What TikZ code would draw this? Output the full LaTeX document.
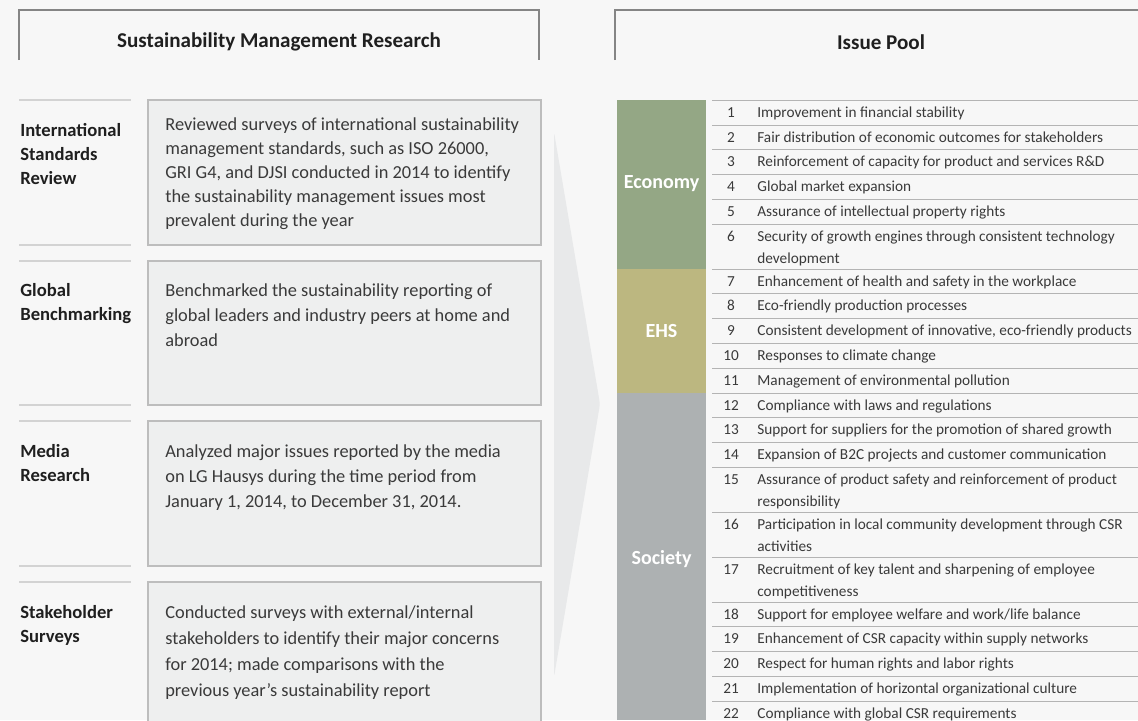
\documentclass[tikz,border=0pt]{standalone}
\usepackage{fontspec}
\setmainfont{Carlito}
\usepackage{xcolor}
\usetikzlibrary{positioning}
\definecolor{pagegray}{HTML}{F7F7F7}
\definecolor{boxgray}{HTML}{EEEFEF}
\definecolor{boxline}{HTML}{BDBDBD}
\definecolor{seprule}{HTML}{D3D3D3}
\definecolor{hdrline}{HTML}{858585}
\definecolor{tabrule}{HTML}{B4B4B4}
\definecolor{arrowgray}{HTML}{E8E9EA}
\definecolor{econgreen}{HTML}{94A785}
\definecolor{ehsolive}{HTML}{BCB780}
\definecolor{socgray}{HTML}{ADB1B2}
\definecolor{bodytext}{HTML}{3A3A3A}

\begin{document}
\begin{tikzpicture}[x=0.02cm,y=-0.02cm,
  hdr/.style={font=\bfseries\fontsize{12}{14}\selectfont,text=black!88},
  lbl/.style={anchor=base west,align=left,inner sep=0,text=black!88,
    font=\bfseries\fontsize{10.6}{13.6}\selectfont},
  desc/.style={anchor=base west,align=left,inner sep=0,text=bodytext,
    font=\fontsize{10.45}{14.2}\selectfont},
  descbox/.style={draw=boxline,line width=0.6pt,fill=boxgray},
  sep/.style={draw=seprule,line width=0.8pt},
  hline/.style={draw=hdrline,line width=0.7pt},
  rule/.style={draw=tabrule,line width=0.5pt},
  num/.style={anchor=base,inner sep=0,text=bodytext,font=\fontsize{8.7}{12.5}\selectfont},
  item/.style={anchor=base west,align=left,inner sep=0,text=bodytext,
    font=\fontsize{8.7}{12.5}\selectfont},
  cat/.style={text=white,font=\bfseries\fontsize{11.4}{13}\selectfont}]

\fill[pagegray] (0,0) rectangle (1138,720);
\useasboundingbox (0,0) rectangle (1138,720);

% headers
\draw[hline] (19,60) -- (19,10) -- (539,10) -- (539,60);
\node[hdr] (research) at (279,42) {Sustainability Management Research};
\draw[hline] (615,60) -- (615,10) -- (1138,10);
\node[hdr] (pool) at (881,42) {Issue Pool};

% arrow in between
\fill[arrowgray,rounded corners=2] (554,132) -- (600,404) -- (554,677) -- cycle;

% left side: research methods (base = last line)
\draw[descbox] (148,100) rectangle (541,245);
\draw[descbox] (148,261) rectangle (541,405);
\draw[descbox] (148,421) rectangle (541,566);
\draw[descbox] (148,582) rectangle (541,730);
\foreach \ya/\yb in {100/245,261/405,421/566,582/740}
  {\draw[sep] (19,\ya) -- (131,\ya);
   \draw[sep] (19,\yb) -- (131,\yb);}

\node[lbl] (intl) at (20,184) {International\\Standards\\Review};
\node[desc,font=\fontsize{10.45}{13.6}\selectfont] (intltxt) at (165,226) {Reviewed surveys of international sustainability\\management standards, such as ISO 26000,\\GRI G4, and DJSI conducted in 2014 to identify\\the sustainability management issues most\\prevalent during the year};
\node[lbl] (bench) at (20,320) {Global\\Benchmarking};
\node[desc] (benchtxt) at (165,346) {Benchmarked the sustainability reporting of\\global leaders and industry peers at home and\\abroad};
\node[lbl] (media) at (20,481) {Media\\Research};
\node[desc] (mediatxt) at (165,507) {Analyzed major issues reported by the media\\on LG Hausys during the time period from\\January 1, 2014, to December 31, 2014.};
\node[lbl] (survey) at (20,642) {Stakeholder\\Surveys};
\node[desc,font=\fontsize{10.45}{14.7}\selectfont] (surveytxt) at (165,696) {Conducted surveys with external/internal\\stakeholders to identify their major concerns\\for 2014; made comparisons with the\\previous year's sustainability report};

% right side: issue pool
\fill[econgreen] (617,100) rectangle (706,269);
\fill[ehsolive] (617,269) rectangle (706,393);
\fill[socgray] (617,393) rectangle (706,720);
\node[cat] (economy) at (661.5,184) {Economy};
\node[cat] (ehs) at (661.5,331) {EHS};
\node[cat] (society) at (661.5,559) {Society};

\foreach \k/\top/\ex/\txt in {
  1/100/0/{Improvement in financial stability},
  2/125/0/{Fair distribution of economic outcomes for stakeholders},
  3/149/0/{Reinforcement of capacity for product and services R\&D},
  4/174/0/{Global market expansion},
  5/199/0/{Assurance of intellectual property rights},
  6/224/22/{Security of growth engines through consistent technology\\development},
  7/269/0/{Enhancement of health and safety in the workplace},
  8/293/0/{Eco-friendly production processes},
  9/318/0/{Consistent development of innovative, eco-friendly products},
  10/343/0/{Responses to climate change},
  11/368/0/{Management of environmental pollution},
  12/393/0/{Compliance with laws and regulations},
  13/417/0/{Support for suppliers for the promotion of shared growth},
  14/442/0/{Expansion of B2C projects and customer communication},
  15/467/22/{Assurance of product safety and reinforcement of product\\responsibility},
  16/512/22/{Participation in local community development through CSR\\activities},
  17/557/22/{Recruitment of key talent and sharpening of employee\\competitiveness},
  18/602/0/{Support for employee welfare and work/life balance},
  19/626/0/{Enhancement of CSR capacity within supply networks},
  20/651/0/{Respect for human rights and labor rights},
  21/676/0/{Implementation of horizontal organizational culture},
  22/701/0/{Compliance with global CSR requirements}}
  {\draw[rule] (712,\top) -- (1138,\top);
   \node[num] (n\k) at (731,\top+17) {\k};
   \node[item] (t\k) at (757,\top+17+\ex) {\txt};}
\end{tikzpicture}
\end{document}
